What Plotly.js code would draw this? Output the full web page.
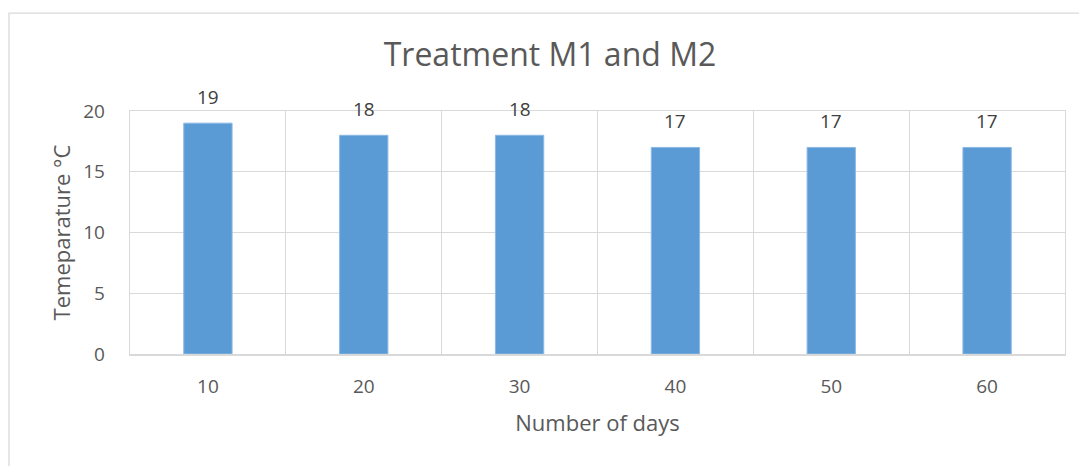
<!DOCTYPE html>
<html>
<head>
<meta charset="utf-8">
<script src="https://cdn.plot.ly/plotly-3.0.1.min.js"></script>
<style>
  html, body { margin: 0; padding: 0; background: #ffffff; }
  #chart { width: 1079px; height: 466px; }
</style>
</head>
<body>
<div id="chart"></div>
<script>
const days = ["10", "20", "30", "40", "50", "60"];
const temperature = [19, 18, 18, 17, 17, 17];
const yTicks = [0, 5, 10, 15, 20];

const fontFamily = "Open Sans, sans-serif";
const textColor = "#595959";
const gridColor = "#D9D9D9";

const trace = {
  type: "bar",
  x: days,
  y: temperature,
  width: 0.31,
  marker: { color: "#5B9BD5", line: { color: "#8CB8E3", width: 1 } },
  hoverinfo: "x+y"
};

// category axis: annotation x uses the category's serial index
const annotations = days.map((d, i) => ({
  x: i,
  y: temperature[i],
  xref: "x",
  yref: "y",
  text: String(temperature[i]),
  showarrow: false,
  yanchor: "bottom",
  yshift: 11,
  font: { family: fontFamily, size: 19, color: "#404040" }
}));

const layout = {
  width: 1079,
  height: 466,
  margin: { l: 130, r: 14, t: 111, b: 112 },
  paper_bgcolor: "#ffffff",
  plot_bgcolor: "#ffffff",
  showlegend: false,
  title: {
    text: "Treatment M1 and M2",
    font: { family: fontFamily, size: 32, color: textColor },
    x: 0.5097,
    xanchor: "center",
    y: 0.883,
    yanchor: "middle"
  },
  xaxis: {
    type: "category",
    range: [-0.5, 5.5],
    tickson: "boundaries",
    ticks: "",
    showgrid: true,
    gridcolor: gridColor,
    gridwidth: 1.3,
    showline: true,
    linecolor: gridColor,
    linewidth: 1.5,
    mirror: true,
    tickfont: { family: fontFamily, size: 19, color: textColor },
    ticklabelstandoff: 15,
    title: {
      text: "Number of days",
      font: { family: fontFamily, size: 22, color: textColor },
      standoff: 17
    },
    fixedrange: true
  },
  yaxis: {
    range: [0, 20],
    tickvals: yTicks,
    ticktext: yTicks.map(String),
    showgrid: true,
    gridcolor: gridColor,
    gridwidth: 1.3,
    zeroline: false,
    showline: true,
    linecolor: gridColor,
    linewidth: 1.3,
    mirror: true,
    ticks: "",
    tickfont: { family: fontFamily, size: 19, color: textColor },
    ticklabelstandoff: 20,
    title: {
      text: "Temeparature °C",
      font: { family: fontFamily, size: 22, color: textColor },
      standoff: 6
    },
    fixedrange: true
  },
  annotations: annotations,
  shapes: [
    {
      type: "rect",
      xref: "paper",
      yref: "paper",
      x0: -0.1294,
      x1: 1.05,
      y0: -0.6,
      y1: 1.403,
      line: { color: "#D9D9D9", width: 1.3 },
      fillcolor: "rgba(0,0,0,0)",
      layer: "below"
    }
  ]
};

Plotly.newPlot("chart", [trace], layout, { displayModeBar: false, staticPlot: true });
</script>
</body>
</html>
